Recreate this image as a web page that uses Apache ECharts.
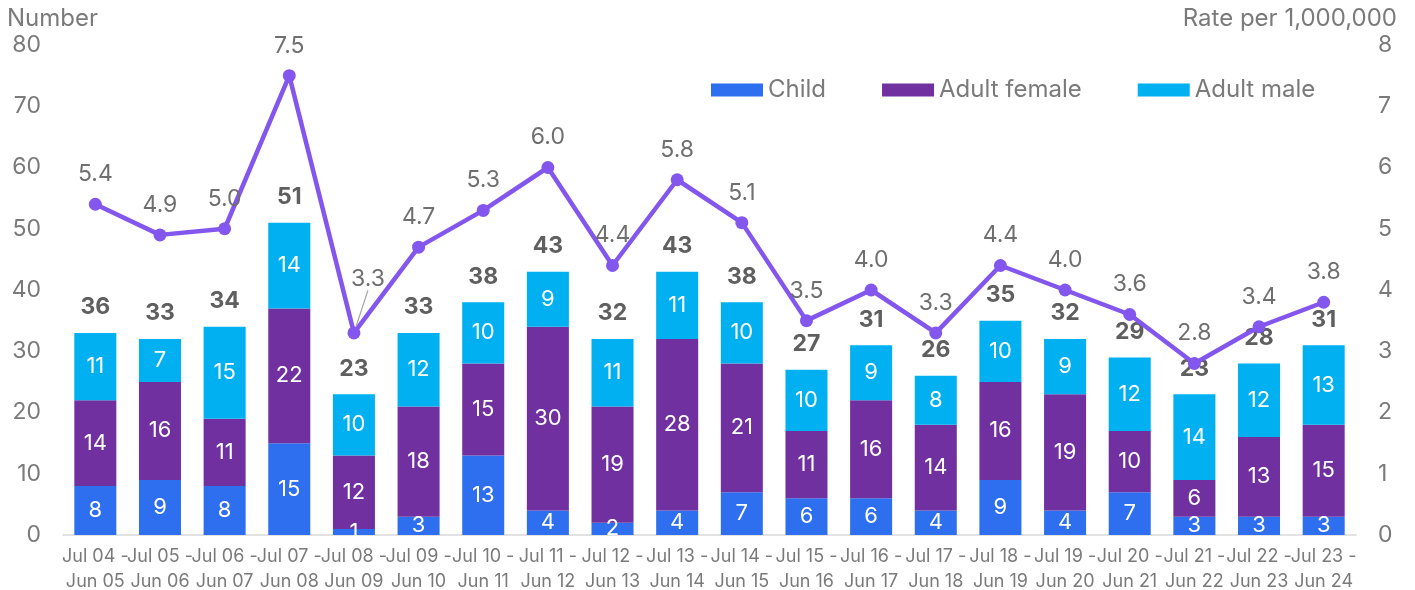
<!DOCTYPE html>
<html>
<head>
<meta charset="utf-8">
<script src="https://cdn.jsdelivr.net/npm/echarts@6/dist/echarts.min.js"></script>
<style>
  html, body { margin: 0; padding: 0; background: #fff; }
  #chart { width: 1415px; height: 590px; }
</style>
</head>
<body>
<div id="chart"></div>
<script>
// Financial years
const categories = [
  'Jul 04 -\nJun 05', 'Jul 05 -\nJun 06', 'Jul 06 -\nJun 07', 'Jul 07 -\nJun 08',
  'Jul 08 -\nJun 09', 'Jul 09 -\nJun 10', 'Jul 10 -\nJun 11', 'Jul 11 -\nJun 12',
  'Jul 12 -\nJun 13', 'Jul 13 -\nJun 14', 'Jul 14 -\nJun 15', 'Jul 15 -\nJun 16',
  'Jul 16 -\nJun 17', 'Jul 17 -\nJun 18', 'Jul 18 -\nJun 19', 'Jul 19 -\nJun 20',
  'Jul 20 -\nJun 21', 'Jul 21 -\nJun 22', 'Jul 22 -\nJun 23', 'Jul 23 -\nJun 24'
];

// Counts by group
const child       = [8, 9, 8, 15, 1, 3, 13, 4, 2, 4, 7, 6, 6, 4, 9, 4, 7, 3, 3, 3];
const adultFemale = [14, 16, 11, 22, 12, 18, 15, 30, 19, 28, 21, 11, 16, 14, 16, 19, 10, 6, 13, 15];
const adultMale   = [11, 7, 15, 14, 10, 12, 10, 9, 11, 11, 10, 10, 9, 8, 10, 9, 12, 14, 12, 13];

// Reported totals (shown above each stack)
const totals = [36, 33, 34, 51, 23, 33, 38, 43, 32, 43, 38, 27, 31, 26, 35, 32, 29, 23, 28, 31];

// Rate per 1,000,000 population
const rates = [5.4, 4.9, 5.0, 7.5, 3.3, 4.7, 5.3, 6.0, 4.4, 5.8, 5.1, 3.5, 4.0, 3.3, 4.4, 4.0, 3.6, 2.8, 3.4, 3.8];

// Tick values
const leftTicks = { min: 0, max: 80, interval: 10 };
const rightTicks = { min: 0, max: 8, interval: 1 };

const FONT = 'Inter, "Noto Sans", sans-serif';
const GREY = '#7a7a7a';

const chart = echarts.init(document.getElementById('chart'), null, { renderer: 'canvas' });

const innerLabel = {
  show: true,
  position: 'inside',
  color: '#ffffff',
  fontFamily: FONT,
  fontSize: 22
};

function barSeries(name, data, color) {
  return {
    name: name,
    type: 'bar',
    stack: 'count',
    barWidth: '65%',
    data: data,
    itemStyle: { color: color },
    label: innerLabel,
    emphasis: { disabled: true }
  };
}

const option = {
  animation: false,
  textStyle: { fontFamily: FONT },
  grid: {
    left: 63, right: 59, top: 45, bottom: 55,
    containLabel: false,
    outerBoundsMode: 'none'
  },
  legend: {
    left: 711,
    top: 78,
    padding: 0,
    itemWidth: 52,
    itemHeight: 13,
    itemGap: 56,
    icon: 'rect',
    data: ['Child', 'Adult female', 'Adult male'],
    textStyle: { color: GREY, fontSize: 24, fontFamily: FONT }
  },
  graphic: [
    {
      type: 'text', left: 7, top: 7,
      style: { text: 'Number', fill: GREY, font: '24px ' + FONT }
    },
    {
      type: 'text', right: 18, top: 7,
      style: { text: 'Rate per 1,000,000', fill: GREY, font: '24px ' + FONT, textAlign: 'right' }
    }
  ],
  xAxis: {
    type: 'category',
    data: categories,
    axisLine: { show: true, lineStyle: { color: '#d9d9d9', width: 1.5 } },
    axisTick: { show: false },
    axisLabel: {
      color: GREY, fontSize: 18, lineHeight: 25, margin: 9,
      fontFamily: FONT, interval: 0
    }
  },
  yAxis: [
    {
      type: 'value',
      min: leftTicks.min, max: leftTicks.max, interval: leftTicks.interval,
      splitLine: { show: false },
      axisLine: { show: false },
      axisTick: { show: false },
      axisLabel: { color: GREY, fontSize: 23, margin: 22, fontFamily: FONT }
    },
    {
      type: 'value',
      min: rightTicks.min, max: rightTicks.max, interval: rightTicks.interval,
      splitLine: { show: false },
      axisLine: { show: false },
      axisTick: { show: false },
      axisLabel: { color: GREY, fontSize: 23, margin: 22, fontFamily: FONT }
    }
  ],
  series: [
    barSeries('Child', child, '#2e6ff0'),
    barSeries('Adult female', adultFemale, '#70309f'),
    barSeries('Adult male', adultMale, '#00b0f0'),
    {
      // zero-height cap carrying the total label on top of each stack
      name: 'Total',
      type: 'bar',
      stack: 'count',
      barWidth: '65%',
      data: totals.map(() => 0),
      itemStyle: { color: 'rgba(0,0,0,0)' },
      label: {
        show: true,
        position: 'top',
        distance: 14,
        color: '#5f5f5f',
        fontWeight: 'bold',
        fontSize: 23,
        fontFamily: FONT,
        formatter: p => String(totals[p.dataIndex])
      },
      emphasis: { disabled: true },
      z: 3
    },
    {
      name: 'Rate',
      type: 'line',
      yAxisIndex: 1,
      data: rates.map((v, i) => i === 4
        ? { value: v, labelLine: { show: true, lineStyle: { color: '#a6a6a6', width: 1.2 } } }
        : v),
      symbol: 'circle',
      symbolSize: 13,
      lineStyle: { color: '#8356ee', width: 4.5 },
      itemStyle: { color: '#8356ee' },
      label: {
        show: true,
        position: 'top',
        distance: 12,
        color: '#6f6f6f',
        fontSize: 23,
        fontFamily: FONT,
        formatter: p => Number(p.value).toFixed(1)
      },
      labelLine: { show: false },
      labelLayout: p => (p.dataIndex === 4 ? { dx: 14, dy: -24 } : {}),
      emphasis: { disabled: true },
      z: 5
    }
  ]
};

chart.setOption(option);
</script>
</body>
</html>
